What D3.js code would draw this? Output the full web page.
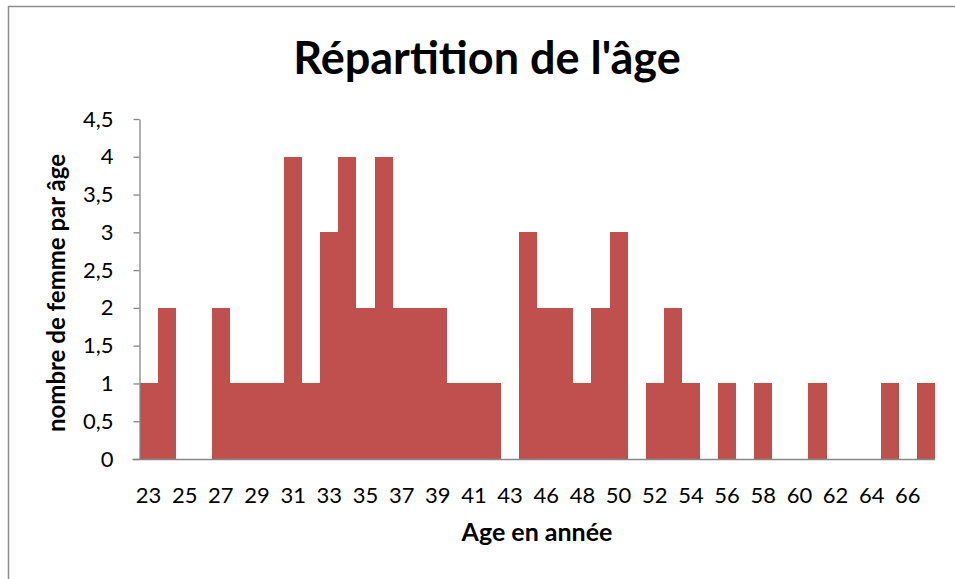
<!DOCTYPE html>
<html><head><meta charset="utf-8">
<script src="https://cdn.jsdelivr.net/npm/d3@7"></script>
<style>body{margin:0;background:#fff;}svg{display:block;font-family:Lato,"Open Sans",sans-serif;}</style>
</head><body>
<svg id="c" width="955" height="579"></svg>
<script>
const ages = [23,24,25,26,27,28,29,30,31,32,33,34,35,36,37,38,39,40,41,42,43,45,46,47,48,49,50,51,52,53,54,55,56,57,58,59,60,61,62,63,64,65,66,67];
const counts = [1,2,0,0,2,1,1,1,4,1,3,4,2,4,2,2,2,1,1,1,0,3,2,2,1,2,3,0,1,2,1,0,1,0,1,0,0,1,0,0,0,1,0,1];
const yTicks = [0,0.5,1,1.5,2,2.5,3,3.5,4,4.5];
const title = "Répartition de l'âge";
const xTitle = "Age en année";
const yTitle = "nombre de femme par âge";

const svg = d3.select("#c");
const m = {l:139.5, r:935, t:119, b:459};
// frame
svg.append("path").attr("d","M8.5,579 V6.5 H955").attr("fill","none").attr("stroke","#8c8c8c").attr("stroke-width",1.5);

const x = d3.scaleBand().domain(ages.map(String)).range([m.l,m.r]).padding(0);
const y = d3.scaleLinear().domain([0,4.5]).range([m.b,m.t]);

svg.append("g").attr("shape-rendering","crispEdges").selectAll("rect").data(ages).join("rect")
  .attr("x",(d)=>x(String(d))).attr("width",x.bandwidth())
  .attr("y",(d,i)=>y(counts[i])).attr("height",(d,i)=>y(0)-y(counts[i]))
  .attr("fill","#C0504D");

const fmt = d=>String(d).replace(".",",");
const ya = svg.append("g").attr("transform",`translate(${m.l},0)`)
  .call(d3.axisLeft(y).tickValues(yTicks).tickFormat(fmt).tickSize(6).tickSizeOuter(0).tickPadding(20));
ya.select(".domain").attr("stroke","#868686").attr("stroke-width",1.3);
ya.selectAll(".tick line").attr("stroke","#868686").attr("stroke-width",1.3);
ya.selectAll("text").attr("font-size",22).attr("fill","#000").attr("font-family","Lato,'Open Sans',sans-serif");

const xa = svg.append("g").attr("transform",`translate(0,${m.b})`)
  .call(d3.axisBottom(x).tickValues(ages.filter((d,i)=>i%2===0).map(String)).tickSize(0).tickSizeOuter(0).tickPadding(28));
xa.select(".domain").attr("stroke","#868686").attr("stroke-width",1.3).attr("d",`M${m.l-7},0.5H${m.r}`);
xa.selectAll("text").attr("font-size",22).attr("fill","#000").attr("font-family","Lato,'Open Sans',sans-serif");

svg.append("text").attr("x",487).attr("y",74).attr("text-anchor","middle")
  .attr("font-size",45).attr("font-weight","bold").text(title);
svg.append("text").attr("x",537).attr("y",541).attr("text-anchor","middle")
  .attr("font-size",25).attr("font-weight","bold").text(xTitle);
svg.append("text").attr("transform","translate(65,293) rotate(-90)").attr("text-anchor","middle")
  .attr("font-size",24).attr("font-weight","bold").text(yTitle);
</script>
</body></html>
